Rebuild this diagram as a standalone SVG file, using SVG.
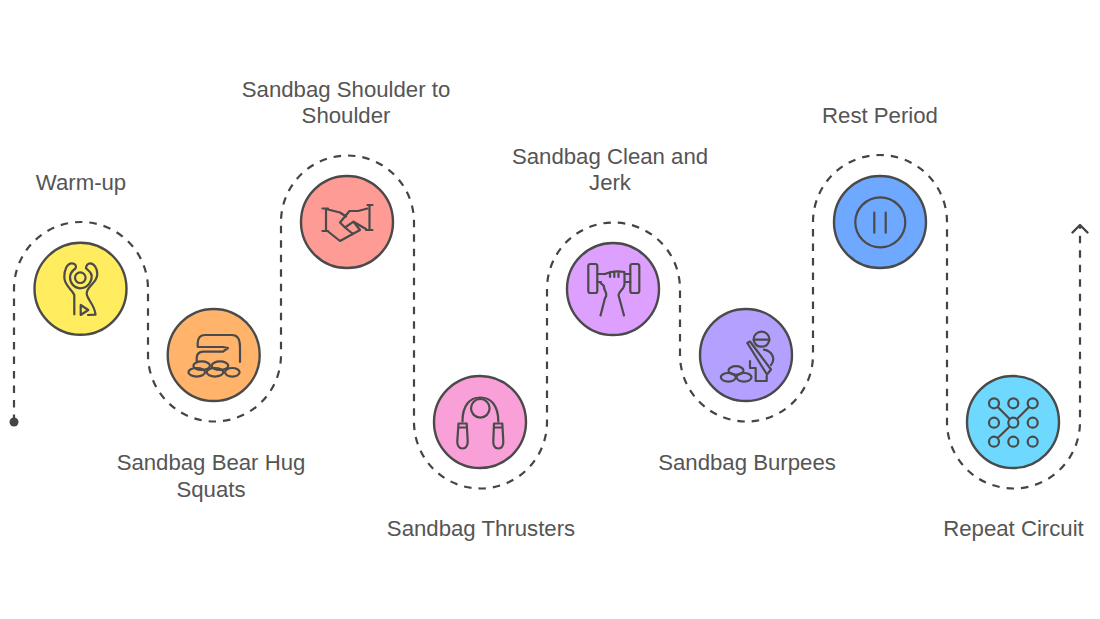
<svg xmlns="http://www.w3.org/2000/svg" width="1100" height="619" viewBox="0 0 1100 619">
<style>
.disc{stroke:#4a4a4a;stroke-width:2.4}
.ic{fill:none;stroke:#4a4a4a;stroke-width:2.2;stroke-linecap:round;stroke-linejoin:round}
.lb{font-family:"Liberation Sans",Arial,sans-serif;font-size:22.2px;fill:#555;text-anchor:middle}
.route{fill:none;stroke:#444;stroke-width:2.2;stroke-dasharray:7.500 7}
</style>
<rect width="1100" height="619" fill="#fff"/>
<g id="connectors">
<path class="route" d="M14 422V289A67 67 0 0 1 148 289V355A66.500 66.500 0 0 0 281 355V222A66.500 66.500 0 0 1 414 222V422A66.500 66.500 0 0 0 547 422V289A66.500 66.500 0 0 1 680 289V355A66.500 66.500 0 0 0 813 355V222A67 67 0 0 1 947 222V422A66.500 66.500 0 0 0 1080 422V226"/>
<circle cx="14" cy="422" r="4.500" fill="#444"/>
<path d="M1072.500 232.500L1080 225L1087.500 232.500" fill="none" stroke="#444" stroke-width="2.400" stroke-linecap="round" stroke-linejoin="round"/>
</g>
<g id="warm-up">
<circle class="disc" cx="80.500" cy="288.800" r="46" fill="#FFEC5F"/>
<circle class="ic" cx="80.300" cy="277.700" r="5.300"/>
<path class="ic" d="M74.300 314.300V295C72 289 64.300 286 64.300 277C64.300 270 67 263.300 71.700 263.300C76 263.300 76.500 267 75.500 268.500C72 271 70 273.500 70 277C70 283.500 74.500 288.300 80 288.300C86.500 288.300 91.700 283 91.700 276C91.700 272 88 270.500 86 268.300C86 265.500 88 263.300 90 263.300C94.500 263.300 97.300 269 97.300 274C97.300 283 87 286 86.700 293.300C86.500 299 95 305 95.500 314.700L88 315"/>
<path class="ic" d="M80.700 305V315L88.300 310Z"/>
<text class="lb" x="81" y="190">Warm-up</text>
</g>
<g id="bear-hug-squats">
<circle class="disc" cx="213.700" cy="355" r="46" fill="#FFB36B"/>
<path class="ic" d="M240 362V347Q240 335 232 335H205Q198 335 197.700 343V347H223L228 348L223 351.700H203Q197 352 196.700 358V361"/>
<ellipse class="ic" cx="201.700" cy="365.700" rx="8.300" ry="4.300"/>
<ellipse class="ic" cx="220" cy="365.700" rx="8.300" ry="4.300"/>
<ellipse class="ic" cx="196.700" cy="372.300" rx="8.300" ry="4.300"/>
<ellipse class="ic" cx="215" cy="372.300" rx="8.300" ry="4.300"/>
<ellipse class="ic" cx="232.300" cy="372.300" rx="7.300" ry="4.300"/>
<text class="lb" x="211" y="470">Sandbag Bear Hug</text>
<text class="lb" x="211" y="497">Squats</text>
</g>
<g id="shoulder-to-shoulder">
<circle class="disc" cx="347" cy="222" r="46" fill="#FF9B95"/>
<path class="ic" d="M322.500 208.500H328M326 208.500V231M322.500 231H328M367.500 205H372.500M369.500 205V230M366 230H372.500"/>
<path class="ic" d="M328 209.500L340 212.500L346 216.500M367.500 208.500L358 211H349.500L340 222.500L345 227.500L353.500 221.700L360 230L340 241L327.500 231M353.500 221.700L366 229M345 227.500L353 234"/>
<text class="lb" x="346" y="97">Sandbag Shoulder to</text>
<text class="lb" x="346" y="123">Shoulder</text>
</g>
<g id="thrusters">
<circle class="disc" cx="480" cy="422" r="46" fill="#F9A0D8"/>
<circle class="ic" cx="480.300" cy="408.300" r="9.300"/>
<path class="ic" d="M462.500 421.500C462.500 405 470 397.500 480.300 397.500C490.500 397.500 498.300 405 498.300 421.500"/>
<path class="ic" d="M458.500 423.500H466.700L467.700 441C468 445.500 466 448.500 462.500 448.500C459 448.500 457 445.500 457.300 441ZM458.500 427.500H466.700M494 423.500H502.300L503.300 441C503.600 445.500 501.800 448.500 498.300 448.500C494.800 448.500 493 445.500 493.300 441ZM494 427.500H502.300"/>
<text class="lb" x="481" y="536">Sandbag Thrusters</text>
</g>
<g id="clean-and-jerk">
<circle class="disc" cx="613" cy="289" r="46" fill="#DDA0FF"/>
<rect class="ic" x="588.300" y="264" width="9" height="29" rx="2"/>
<rect class="ic" x="630.300" y="264" width="9" height="29" rx="2"/>
<path class="ic" d="M597.300 274H605M597.300 282H601M630.300 274H624.500M630.300 282H625"/>
<path class="ic" d="M600.500 283C603 285 605 286 604 288C606 293 607.500 295 605 298L600.500 315.500M605 274C610 271.500 618 271 624.500 272V284C624.500 289 619 291 618.500 295L624 315.500M610 272V277M614.300 271.500V277M618.500 271.500V277"/>
<text class="lb" x="610" y="164">Sandbag Clean and</text>
<text class="lb" x="610" y="190">Jerk</text>
</g>
<g id="burpees">
<circle class="disc" cx="746" cy="355" r="46" fill="#B3A0FF"/>
<path class="ic" d="M753.500 339.700A8 8 0 0 1 769.500 339.700ZM753.500 339.700Q755 346.700 761.500 346.700Q768 346.700 769.500 339.700"/>
<path class="ic" d="M747.300 343L750 341.500L771 369.500L767 374.500ZM764 349.700C772 351 776 359 771 365M750 361V368H755.700V381H766.700V376"/>
<ellipse class="ic" cx="736" cy="370.500" rx="7.500" ry="4.300"/>
<ellipse class="ic" cx="728.300" cy="377.300" rx="7.500" ry="4.300"/>
<ellipse class="ic" cx="744" cy="377.300" rx="7.500" ry="4.300"/>
<text class="lb" x="747" y="470">Sandbag Burpees</text>
</g>
<g id="rest-period">
<circle class="disc" cx="880" cy="222" r="46" fill="#6EA8FF"/>
<circle class="ic" cx="880.300" cy="222.300" r="25"/>
<path class="ic" d="M874.300 212.700V232.700M885.700 212.700V232.700"/>
<text class="lb" x="880" y="123">Rest Period</text>
</g>
<g id="repeat-circuit">
<circle class="disc" cx="1013" cy="422" r="46" fill="#6FD8FF"/>
<circle class="ic" cx="994" cy="403.300" r="5"/><circle class="ic" cx="1013.300" cy="403.300" r="5"/><circle class="ic" cx="1032.700" cy="403.300" r="5"/>
<circle class="ic" cx="994" cy="422.700" r="5"/><circle class="ic" cx="1013.300" cy="422.700" r="5"/><circle class="ic" cx="1032.700" cy="422.700" r="5"/>
<circle class="ic" cx="994" cy="441.700" r="5"/><circle class="ic" cx="1013.300" cy="441.700" r="5"/><circle class="ic" cx="1032.700" cy="441.700" r="5"/>
<path class="ic" d="M997.700 407L1009.700 419M1029 407L1017 419M1009.700 426.500L997.700 438"/>
<text class="lb" x="1013.500" y="536">Repeat Circuit</text>
</g>
</svg>
